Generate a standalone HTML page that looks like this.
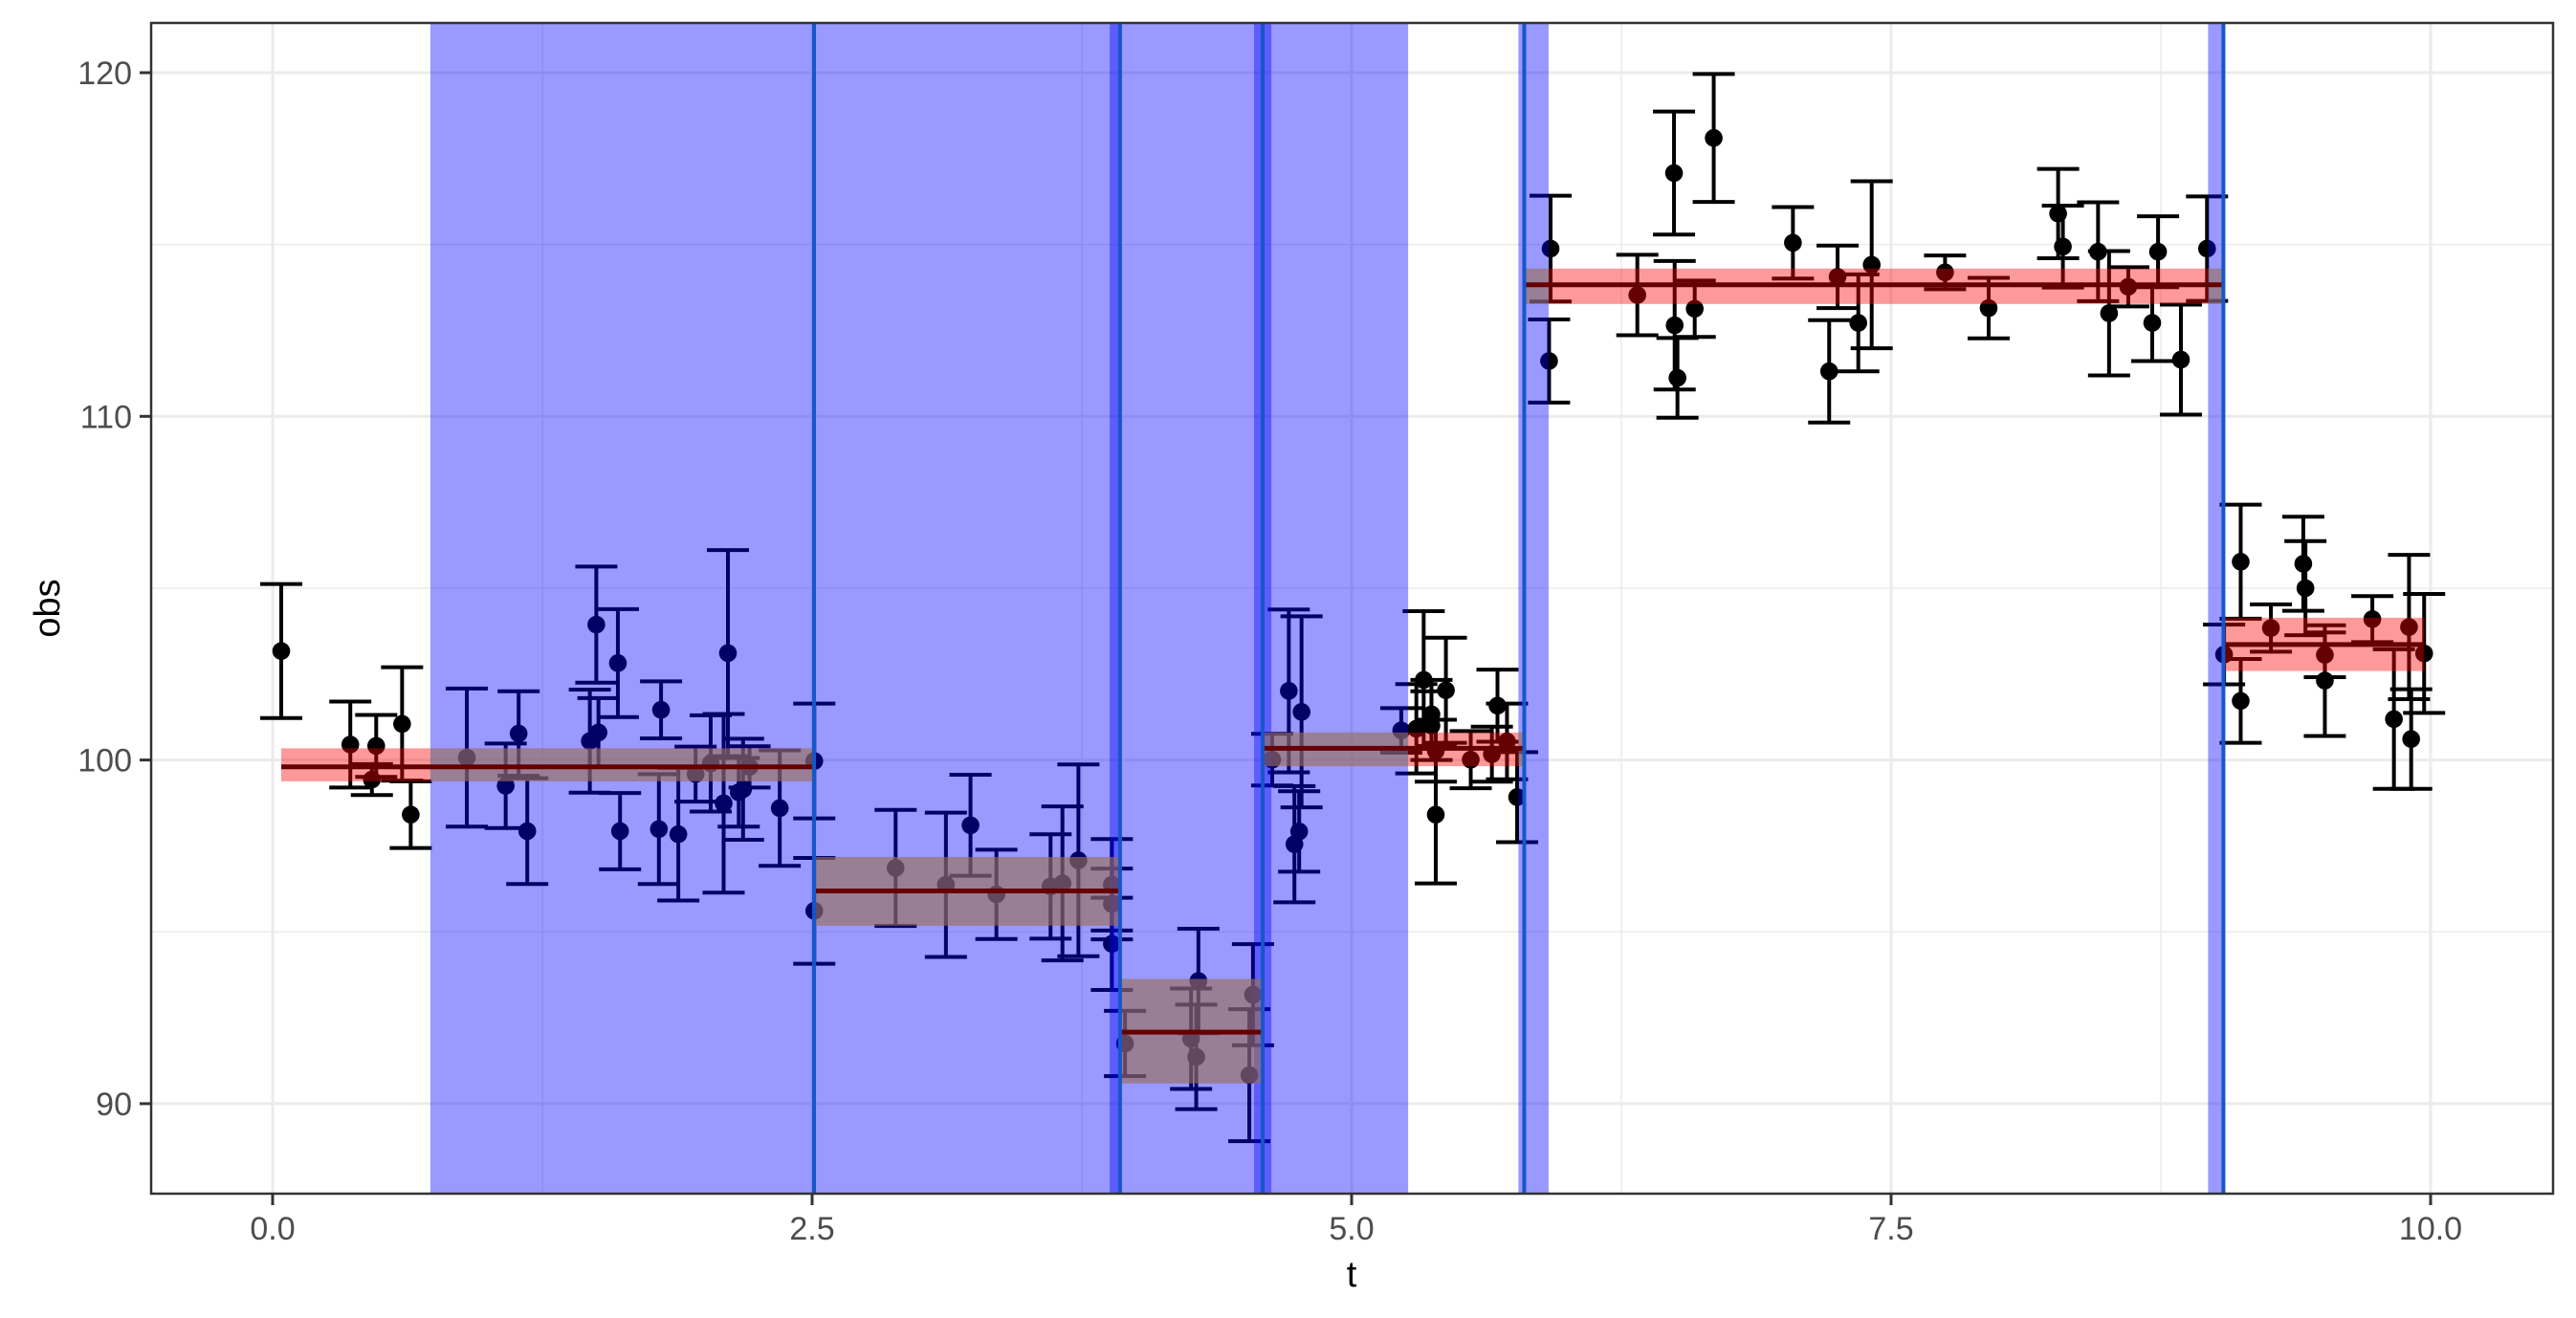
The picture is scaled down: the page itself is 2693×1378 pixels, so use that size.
<!DOCTYPE html>
<html><head><meta charset="utf-8">
<style>
html,body{margin:0;padding:0;background:#fff;}
svg{display:block;font-family:"Liberation Sans",Arial,sans-serif;}
</style></head>
<body>
<svg id="chart" width="2693" height="1378" viewBox="0 0 2693 1378" xmlns="http://www.w3.org/2000/svg">
<rect width="2693" height="1378" fill="#fff"/>
<g id="grid"></g>
<g id="marks"></g>
<g id="shades"></g>
<g id="segs"></g>
<g id="vlines"></g>
<rect x="158" y="24" width="2511" height="1224" fill="none" stroke="#333" stroke-width="2.5"/>
<g id="axes"></g>
<text x="1413" y="1345" font-size="38" text-anchor="middle" fill="#000">t</text>
<text transform="translate(62,636) rotate(-90)" font-size="38" text-anchor="middle" fill="#000">obs</text>
</svg>
<script>
const tVals=[0.04,0.36,0.48,0.46,0.60,0.64,0.90,1.08,1.14,1.18,1.47,1.50,1.51,1.60,1.61,1.79,1.80,1.88,1.96,2.03,2.09,2.11,2.16,2.18,2.21,2.35,2.51,2.51,2.887,3.12,3.234,3.354,3.605,3.66,3.734,3.889,3.889,3.889,3.95,4.256,4.28,4.29,4.526,4.543,4.632,4.709,4.735,4.757,4.768,5.23,5.30,5.334,5.37,5.37,5.39,5.39,5.437,5.552,5.65,5.676,5.72,5.767,5.915,5.922,6.324,6.494,6.497,6.51,6.59,6.678,7.045,7.213,7.252,7.348,7.41,7.75,7.952,8.274,8.296,8.459,8.51,8.599,8.71,8.737,8.843,8.964,9.043,9.12,9.12,9.26,9.41,9.42,9.51,9.51,9.73,9.83,9.90,9.91,9.97];
const obsVals=[103.17,100.45,100.41,99.43,101.05,98.41,100.07,99.25,100.77,97.93,100.55,103.94,100.8,102.82,97.93,97.99,101.46,97.84,99.59,99.9,98.74,103.11,99.06,99.15,99.8,98.6,99.97,95.61,96.86,96.37,98.10,96.09,96.32,96.41,97.08,96.37,95.81,94.65,91.75,91.89,91.36,93.57,90.83,93.17,100.01,102.01,97.55,97.92,101.4,100.86,100.91,102.33,101.33,101.0,98.41,100.27,102.03,100.01,100.17,101.58,100.54,98.92,111.61,114.88,113.53,117.08,112.65,111.12,113.13,118.1,115.05,111.31,114.06,112.72,114.41,114.19,113.15,115.9,114.94,114.79,113.0,113.77,112.72,114.79,111.65,114.88,103.07,105.77,101.72,103.84,105.71,105.0,103.06,102.31,104.1,101.19,103.87,100.61,103.1];
const errVals=[1.95,1.25,0.9,0.45,1.65,0.97,2.01,1.23,1.23,1.54,1.5,1.69,1.0,1.57,1.11,1.6,0.83,1.93,0.8,1.4,2.6,3.0,1.0,1.47,0.6,1.68,1.67,1.54,1.69,2.1,1.47,1.3,1.52,2.24,2.79,1.33,1.03,1.34,0.95,1.46,1.52,1.52,1.92,1.47,0.75,2.37,1.69,1.17,2.78,0.65,1.3,2.0,1.0,1.0,2.0,0.9,1.53,0.83,0.8,1.05,1.1,1.31,1.21,1.54,1.17,1.79,1.87,1.16,0.82,1.86,1.04,1.49,0.91,1.41,2.43,0.49,0.88,1.3,1.19,1.44,1.81,0.57,1.11,1.03,1.6,1.52,0.87,1.66,1.22,0.69,1.37,1.37,0.65,1.61,0.67,2.03,2.1,1.45,1.73];
const segStart=[0.04,2.509,3.927,4.588,5.80,9.04];
const segEnd=[2.509,3.927,4.588,5.80,9.04,9.97];
const segMean=[99.8,96.19,92.08,100.34,113.83,103.36];
const segLo=[99.38,95.18,90.59,99.82,113.27,102.59];
const segHi=[100.34,97.18,93.63,100.8,114.3,104.14];
const shadeStart=[0.731,5.773,8.969,3.879,4.548];
const shadeEnd=[5.262,5.913,9.047,3.923,4.628];
const changepoints=[2.509,3.927,4.588,5.80,9.04];
const xTicks=[0,2.5,5,7.5,10];
const xTickLabels=["0.0","2.5","5.0","7.5","10.0"];
const xMinor=[1.25,3.75,6.25,8.75];
const yTicks=[90,100,110,120];
const yTickLabels=["90","100","110","120"];
const yMinor=[95,105,115];

const PL=158,PR=2669,PT=24,PB=1248;
const X=t=>285+(t-0)*225.6;
const Y=v=>76+(120-v)*35.93;
const NS="http://www.w3.org/2000/svg";
function mk(tag,attrs,parent){const e=document.createElementNS(NS,tag);for(const k in attrs)e.setAttribute(k,attrs[k]);parent.appendChild(e);return e;}
const grid=document.getElementById('grid'),marks=document.getElementById('marks'),shades=document.getElementById('shades'),segs=document.getElementById('segs'),vl=document.getElementById('vlines'),axes=document.getElementById('axes');

xMinor.forEach(v=>{const l=mk('line',{x1:X(v),x2:X(v),y1:PT,y2:PB,stroke:'#ebebeb','stroke-width':1.5},grid);

});
yMinor.forEach(v=>{const l=mk('line',{x1:PL,x2:PR,y1:Y(v),y2:Y(v),stroke:'#ebebeb','stroke-width':1.5},grid);

});
xTicks.forEach((v,i)=>{const l=mk('line',{x1:X(v),x2:X(v),y1:PT,y2:PB,stroke:'#ebebeb','stroke-width':3},grid);


const tk=mk('line',{x1:X(v),x2:X(v),y1:PB,y2:PB+12,stroke:'#333','stroke-width':3},axes);


const tx=mk('text',{x:X(v),y:PB+48,'font-size':34,'text-anchor':'middle',fill:'#4d4d4d'},axes);tx.textContent=xTickLabels[i];

});
yTicks.forEach((v,i)=>{const l=mk('line',{x1:PL,x2:PR,y1:Y(v),y2:Y(v),stroke:'#ebebeb','stroke-width':3},grid);


const tk=mk('line',{x1:PL-12,x2:PL,y1:Y(v),y2:Y(v),stroke:'#333','stroke-width':3},axes);


const tx=mk('text',{x:PL-20,y:Y(v)+12,'font-size':34,'text-anchor':'end',fill:'#4d4d4d'},axes);tx.textContent=yTickLabels[i];

});

tVals.forEach((t,i)=>{const g=mk('g',{},marks);


const x=X(t),y1=Y(obsVals[i]+errVals[i]),y2=Y(obsVals[i]-errVals[i]);
mk('line',{x1:x,x2:x,y1:y1,y2:y2,stroke:'#000','stroke-width':4},g);
mk('line',{x1:x-22,x2:x+22,y1:y1,y2:y1,stroke:'#000','stroke-width':4},g);
mk('line',{x1:x-22,x2:x+22,y1:y2,y2:y2,stroke:'#000','stroke-width':4},g);
mk('circle',{cx:x,cy:Y(obsVals[i]),r:9.3,fill:'#000'},g);});

shadeStart.forEach((s,i)=>{const r=mk('rect',{x:X(s),y:PT,width:X(shadeEnd[i])-X(s),height:PB-PT,fill:'rgba(0,0,255,0.4)'},shades);

});

segStart.forEach((s,i)=>{const r=mk('rect',{x:X(s),y:Y(segHi[i]),width:X(segEnd[i])-X(s),height:Y(segLo[i])-Y(segHi[i]),fill:'rgba(250,0,0,0.4)'},segs);


for(let k=0;k<3;k++){const a=Math.max(s,shadeStart[k]),b=Math.min(segEnd[i],shadeEnd[k]);
if(b>a){const c=mk('rect',{x:X(a),y:Y(segHi[i]),width:X(b)-X(a),height:Y(segLo[i])-Y(segHi[i]),fill:'rgba(94,177,145,0.4)'},segs);

}}
const l=mk('line',{x1:X(s),x2:X(segEnd[i]),y1:Y(segMean[i]),y2:Y(segMean[i]),stroke:'#660000','stroke-width':5},segs);

});

changepoints.forEach(c=>{const l=mk('line',{x1:X(c),x2:X(c),y1:PT,y2:PB,stroke:'#1557c8','stroke-width':4},vl);

});
</script>
</body></html>
